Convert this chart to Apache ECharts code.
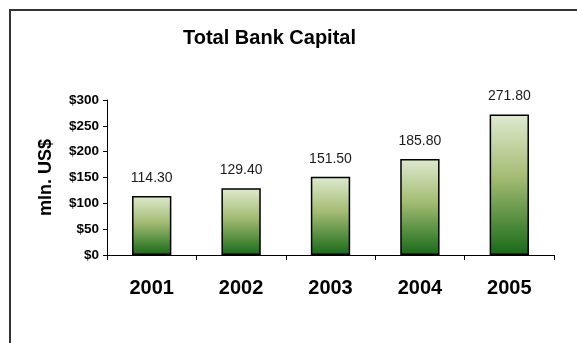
<!DOCTYPE html>
<html>
<head>
<meta charset="utf-8">
<script src="https://cdn.jsdelivr.net/npm/echarts@6/dist/echarts.min.js"></script>
<style>
  html, body { margin: 0; padding: 0; background: #fff; }
  #chart { width: 577px; height: 343px; }
</style>
</head>
<body>
<div id="chart"></div>
<script>
// Total bank capital by year, million US dollars
const years = ['2001', '2002', '2003', '2004', '2005'];
const capital = [114.30, 129.40, 151.50, 185.80, 271.80];
const yTicks = { min: 0, max: 300, interval: 50 };

const chart = echarts.init(document.getElementById('chart'), null, { renderer: 'canvas' });

const barFill = new echarts.graphic.LinearGradient(0, 0, 0, 1, [
  { offset: 0, color: '#dfead0' },
  { offset: 0.45, color: '#a3bb72' },
  { offset: 1, color: '#176a17' }
]);

const font = 'Liberation Sans, Arial, sans-serif';

chart.setOption({
  backgroundColor: '#ffffff',
  animation: false,
  graphic: [{
    type: 'rect',
    shape: { x: 10, y: 10, width: 620, height: 400 },
    style: { fill: 'none', stroke: '#333333', lineWidth: 2 },
    silent: true
  }],
  title: {
    text: 'Total Bank Capital',
    left: 178,
    top: 23,
    textStyle: { fontFamily: font, fontWeight: 'bold', fontSize: 20, color: '#000' }
  },
  grid: { left: 107, right: 23, top: 100, bottom: 88, containLabel: false },
  xAxis: {
    type: 'category',
    data: years,
    boundaryGap: true,
    axisLine: { lineStyle: { color: '#000', width: 1 } },
    axisTick: { show: true, alignWithLabel: false, length: 5, lineStyle: { color: '#000' } },
    axisLabel: {
      margin: 23,
      color: '#000',
      fontFamily: font,
      fontWeight: 'bold',
      fontSize: 20
    },
    splitLine: { show: false }
  },
  yAxis: {
    type: 'value',
    min: yTicks.min,
    max: yTicks.max,
    interval: yTicks.interval,
    name: 'mln. US$',
    nameLocation: 'middle',
    nameGap: 52,
    nameRotate: 90,
    nameTextStyle: { fontFamily: font, fontWeight: 'bold', fontSize: 18, color: '#000' },
    axisLine: { show: true, lineStyle: { color: '#000', width: 1 } },
    axisTick: { show: true, length: 4, lineStyle: { color: '#000' } },
    axisLabel: {
      margin: 8,
      color: '#000',
      fontFamily: font,
      fontWeight: 'bold',
      fontSize: 13.5,
      formatter: v => '$' + v
    },
    splitLine: { show: false }
  },
  series: [{
    type: 'bar',
    data: capital,
    barWidth: '44%',
    itemStyle: { color: barFill, borderColor: '#000', borderWidth: 1.5 },
    label: {
      show: true,
      position: 'top',
      distance: 11,
      color: '#1a1a1a',
      fontFamily: font,
      fontSize: 14,
      formatter: p => p.value.toFixed(2)
    }
  }]
});
</script>
</body>
</html>
